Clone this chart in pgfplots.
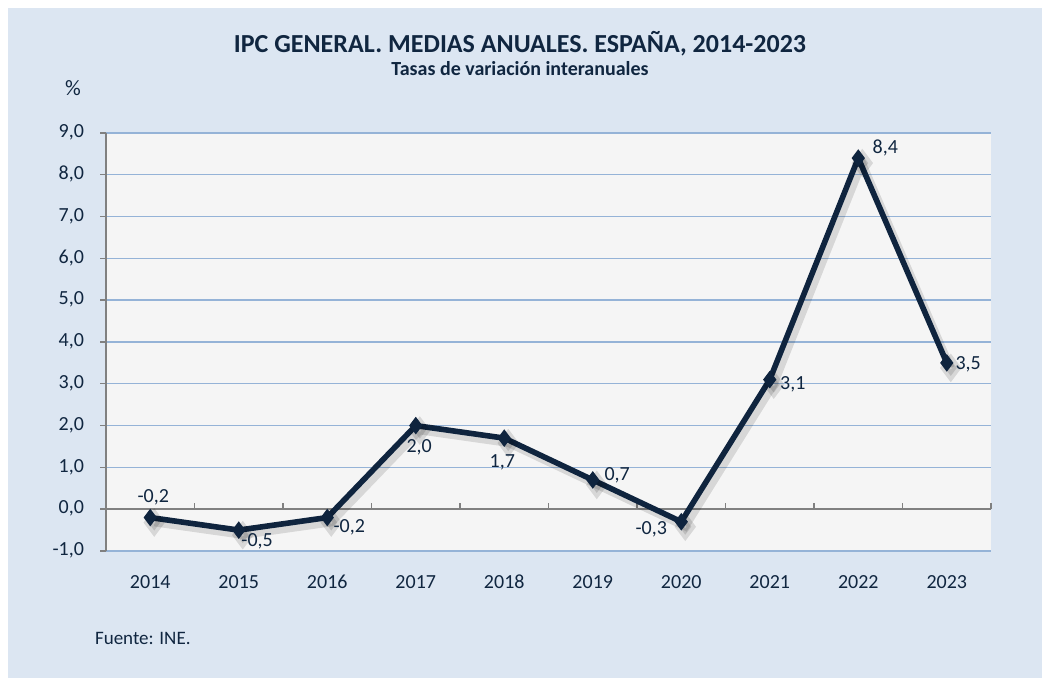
\documentclass[border=0pt]{standalone}
\usepackage{pgfplots}
\usepackage{pgfplotstable}
\usepackage{fontspec}
\pgfplotsset{compat=1.18}
\setmainfont{Carlito}
\definecolor{bgblue}{RGB}{220,230,242}
\definecolor{plotbg}{RGB}{245,245,245}
\definecolor{gridblue}{RGB}{149,179,215}
\definecolor{navy}{RGB}{15,36,62}
\definecolor{txt}{RGB}{16,38,64}

% dx, dy = offset (pt) of the value label from its point
\pgfplotstableread{
x y dx dy
0 -0.2 1.5 10.2
1 -0.5 9.2 -5.5
2 -0.2 11 -4.8
3 2.0 1.7 -10.8
4 1.7 -1 -12
5 0.7 12.2 2.4
6 -0.3 -15 -3.7
7 3.1 11.5 -2.5
8 8.4 13.5 5
9 3.5 10.7 -0.6
}\ipc

\begin{document}
\begin{tikzpicture}
  \fill[white] (0,0) rectangle (521pt,339pt);
  \fill[bgblue] (4pt,0) rectangle (521pt,335pt);
  \useasboundingbox (0,0) rectangle (521pt,339pt);

  \node[text=txt, font=\fontsize{13}{15}\selectfont\bfseries] at (260pt,317pt)
    {IPC GENERAL. MEDIAS ANUALES. ESPAÑA, 2014-2023};
  \node[text=txt, font=\fontsize{10}{12}\selectfont\bfseries] at (260pt,304.5pt)
    {Tasas de variación interanuales};
  \node[text=txt, font=\fontsize{11}{13}\selectfont] at (36.5pt,295pt) {\%};
  \node[text=txt, font=\fontsize{9.5}{11}\selectfont, anchor=west] at (44pt,20pt) {Fuente: INE.};

  \begin{axis}[
    at={(53pt,63.5pt)}, anchor=south west,
    scale only axis, width=442.5pt, height=209pt,
    xmin=-0.5, xmax=9.5, ymin=-1, ymax=9,
    xtick={0,...,9},
    xticklabels={2014,2015,2016,2017,2018,2019,2020,2021,2022,2023},
    ytick={-1,0,...,9},
    axis background/.style={fill=plotbg},
    axis line style={draw=none},
    ymajorgrids, grid style={gridblue, line width=0.7pt},
    tick pos=left, tick align=outside, major tick length=3pt,
    xtick style={draw=none},
    ytick style={draw=gray, line width=0.7pt},
    tick label style={font=\fontsize{10}{12}\selectfont, text=txt},
    typeset ticklabels with strut,
    xticklabel style={anchor=north, yshift=-4pt},
    yticklabel style={anchor=east, xshift=-4.5pt},
    /pgf/number format/.cd, use comma, fixed, fixed zerofill, precision=1,
      assume math mode=true,
    /pgfplots/.cd,
    clip=false,
  ]
    \draw[gray, line width=0.7pt] (axis cs:-0.5,0) -- (axis cs:9.5,0);
    \pgfplotsinvokeforeach{0.5,1.5,2.5,3.5,4.5,5.5,6.5,7.5,8.5,9.5}{
      \draw[gray, line width=0.7pt] (axis cs:#1,0) -- ([yshift=3pt]axis cs:#1,0);
    }
    \draw[gray, line width=0.7pt] (axis cs:-0.5,-1) -- (axis cs:-0.5,9);

    % shadow
    \addplot[draw=black, opacity=0.12, line width=3.8pt, mark=diamond*,
      mark size=4pt, mark options={fill=black, draw=black},
      xshift=2pt, yshift=-2.5pt, forget plot]
      table[x=x, y=y] {\ipc};

    \addplot[draw=navy, line width=2.8pt, mark=diamond*, mark size=4pt,
      mark options={fill=navy, draw=navy, line width=0.5pt},
      point meta=y,
      visualization depends on={\thisrow{dx} \as \dx},
      visualization depends on={\thisrow{dy} \as \dy},
      nodes near coords,
      nodes near coords style={anchor=center, inner sep=0pt,
        xshift=\dx pt, yshift=\dy pt,
        font=\fontsize{10}{12}\selectfont, text=txt},
    ] table[x=x, y=y] {\ipc};
  \end{axis}
\end{tikzpicture}
\end{document}
